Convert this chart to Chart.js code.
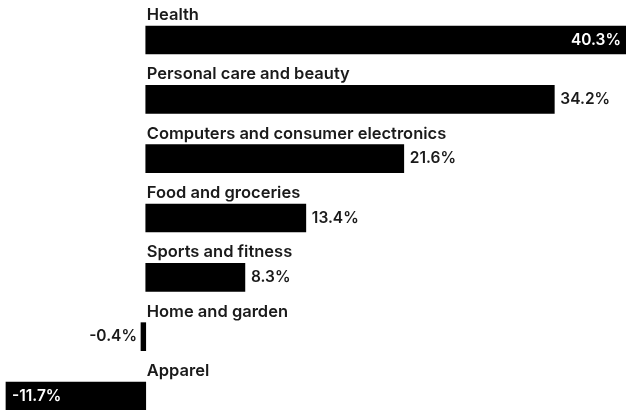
<!DOCTYPE html>
<html>
<head>
<meta charset="utf-8">
<script src="https://cdn.jsdelivr.net/npm/chart.js@4.4.1/dist/chart.umd.min.js"></script>
<style>
  html, body { margin: 0; padding: 0; background: #fff; }
  #wrap { width: 626px; height: 410px; }
</style>
</head>
<body>
<div id="wrap"><canvas id="chart"></canvas></div>
<script>
// Data
const categories = [
    'Health',
    'Personal care and beauty',
    'Computers and consumer electronics',
    'Food and groceries',
    'Sports and fitness',
    'Home and garden',
    'Apparel'
];
const growth = [40.3, 34.2, 21.6, 13.4, 8.3, -0.4, -11.7];

const labelFont = '600 16.5px Inter';
const valueFont = '600 15.5px Inter';

// Draws the category name above each bar and the value next to / inside it
const barLabels = {
    id: 'barLabels',
    afterDatasetsDraw(chart) {
        const ctx = chart.ctx;
        const x = chart.scales.x;
        const meta = chart.getDatasetMeta(0);
        const zero = x.getPixelForValue(0);
        const width = chart.width;

        ctx.save();
        meta.data.forEach((bar, i) => {
            const top = bar.y - bar.height / 2;

            // category name
            ctx.font = labelFont;
            ctx.fillStyle = '#1a1a1a';
            ctx.textAlign = 'left';
            ctx.textBaseline = 'alphabetic';
            ctx.fillText(categories[i], zero + 1, top - 6);

            // value
            const v = growth[i];
            const text = v.toFixed(1) + '%';
            ctx.font = valueFont;
            ctx.textBaseline = 'middle';
            const w = ctx.measureText(text).width;
            const end = x.getPixelForValue(v);
            if (v >= 0) {
                if (end + 6 + w <= width) {
                    ctx.fillStyle = '#1a1a1a';
                    ctx.textAlign = 'left';
                    ctx.fillText(text, end + 6, bar.y);
                } else {
                    ctx.fillStyle = '#fff';
                    ctx.textAlign = 'right';
                    ctx.fillText(text, Math.min(end, width) - 5, bar.y);
                }
            } else {
                if (end - 5 - w >= 0) {
                    ctx.fillStyle = '#1a1a1a';
                    ctx.textAlign = 'right';
                    ctx.fillText(text, end - 4, bar.y);
                } else {
                    ctx.fillStyle = '#fff';
                    ctx.textAlign = 'left';
                    ctx.fillText(text, Math.max(end, 0) + 6, bar.y);
                }
            }
        });
        ctx.restore();
    }
};

const ctx = document.getElementById('chart').getContext('2d');
const chart = new Chart(ctx, {
    type: 'bar',
    data: {
        labels: categories,
        datasets: [{
            data: growth,
            backgroundColor: '#000',
            borderWidth: 0,
            barThickness: 28,
            clip: false
        }]
    },
    options: {
        indexAxis: 'y',
        responsive: true,
        maintainAspectRatio: false,
        animation: false,
        layout: {
            padding: { top: 40, bottom: 14, left: 0, right: 0 }
        },
        plugins: {
            legend: { display: false },
            tooltip: { enabled: false }
        },
        scales: {
            x: {
                display: false,
                min: -12.2,
                max: 40.2
            },
            y: {
                display: false,
                offset: false
            }
        }
    },
    plugins: [barLabels]
});
</script>
</body>
</html>
